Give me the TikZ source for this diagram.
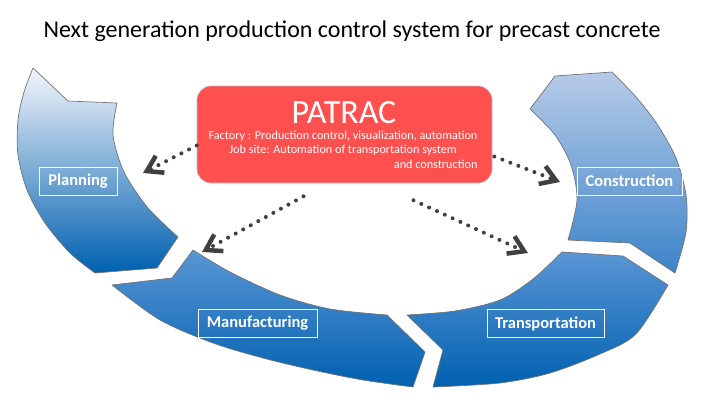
\documentclass[tikz,border=0pt]{standalone}
\usepackage{fontspec}
\setmainfont{Carlito}
\usetikzlibrary{arrows.meta,positioning,calc}
\definecolor{ringdark}{RGB}{0,96,176}
\definecolor{ringpale}{RGB}{244,246,251}
\definecolor{ringlight}{RGB}{183,202,231}
\definecolor{ringmid}{RGB}{60,132,202}
\definecolor{ringtop}{RGB}{90,150,212}
\definecolor{corered}{RGB}{255,80,80}
\definecolor{dotgrey}{RGB}{64,64,64}

\begin{document}
\begin{tikzpicture}[x=1pt, y=-1pt,
  seg/.style={draw=black!55, line width=0.7pt, line join=round},
  lbl/.style={draw=white, line width=0.9pt, text=white, inner sep=0pt,
              minimum height=28pt, font=\fontsize{16.5}{19}\selectfont\bfseries},
  corebox/.style={draw=black!25, line width=0.6pt, fill=corered, rounded corners=14pt,
              minimum width=295pt, minimum height=97pt, inner sep=0pt},
  dots/.style={dotgrey, line width=4pt, line cap=round, dash pattern=on 0pt off 8.6pt,
              -{Straight Barb[length=15pt,width=19pt,line width=4.5pt]}}]

\useasboundingbox (0,0) rectangle (708,402);

% --- title ---
\node[font=\fontsize{24}{28}\selectfont] (title) at (352,31)
  {Next generation production control system for precast concrete};

% --- ring segments (drawn first, behind) ---
% planning
\path[seg, top color=ringpale, bottom color=ringdark]
  (33,68) -- (68,101) -- (117,103)
  -- plot[smooth] coordinates {(117,103) (113,135) (124,172) (148,208) (178,237)}
  -- (157,268)
  -- plot[smooth] coordinates {(95,273) (70,253) (45,223) (27,190) (18,155) (18,120) (24,92) (33,68)}
  -- cycle;
% manufacturing
\path[seg, top color=ringtop, bottom color=ringdark]
  (112,285) -- (172,278) -- (193,250)
  -- plot[smooth] coordinates {(193,250) (230,272) (280,295) (330,309) (387,315)}
  -- (425,352)
  -- plot[smooth] coordinates {(413,387) (363,380) (313,370) (263,358) (213,343) (160,320) (112,285)}
  -- cycle;
% transportation
\path[seg, top color=ringtop, bottom color=ringdark]
  (433,387) -- (443,350) -- (407,315)
  -- plot[smooth] coordinates {(407,315) (455,311) (500,300) (533,279) (562,252)}
  -- (623,256)
  -- plot[smooth] coordinates {(668,285) (636,334) (600,354) (550,373) (500,383) (433,387)}
  -- cycle;
% construction
\path[seg, top color=ringlight, bottom color=ringmid]
  (568,240) -- (630,243) -- (675,273)
  -- plot[smooth] coordinates {(675,273) (686,232) (686,195) (676,158) (657,124) (636,97) (612,72)}
  -- (555,76)
  -- plot[smooth] coordinates {(530,109) (555,135) (571,165) (577,200) (568,240)}
  -- cycle;

% --- stage labels ---
\node[lbl, minimum width=78pt]  (plan)  at (78,181)    {Planning};
\node[lbl, minimum width=119pt] (manu)  at (257.5,323) {Manufacturing};
\node[lbl, minimum width=117pt] (trans) at (545.5,323.5) {Transportation};
\node[lbl, minimum width=105pt] (cons)  at (629.5,181) {Construction};

% --- PATRAC box ---
\node[corebox] (patrac) at (344.5,134.5) {};
\node[text=white, font=\fontsize{34}{36}\selectfont, inner sep=0pt] (name) at (344,113) {PATRAC};
\node[text=white, font=\fontsize{12.2}{14.5}\selectfont, inner sep=0pt] (desc) at (343,151)
  {\begin{tabular}{@{}c@{}}
   Factory : Production control, visualization, automation\\
   Job site: Automation of transportation system\\
   \multicolumn{1}{@{}r@{}}{and construction}
   \end{tabular}};

% --- dotted pointers ---
\coordinate (tplan)  at (143,173);
\coordinate (tmanu)  at (202,252);
\coordinate (tcons)  at (560,182);
\coordinate (ttrans) at (528,253);
\draw[dots] ([yshift=-11pt]patrac.west) -- (tplan);
\draw[dots] ([xshift=-41pt,yshift=-13pt]patrac.south) -- (tmanu);
\draw[dots] ([xshift=2pt,yshift=-22pt]patrac.east) -- (tcons);
\draw[dots] ([xshift=69pt,yshift=-17pt]patrac.south) -- (ttrans);
\end{tikzpicture}
\end{document}
